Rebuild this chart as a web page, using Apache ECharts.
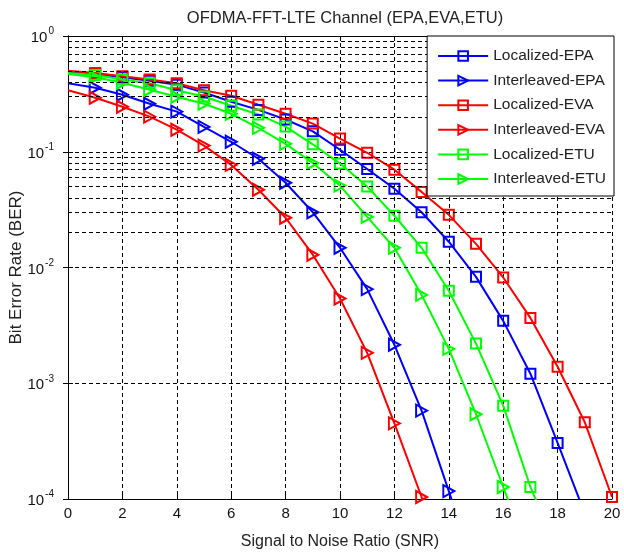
<!DOCTYPE html>
<html><head><meta charset="utf-8">
<script src="https://cdn.jsdelivr.net/npm/echarts@6/dist/echarts.min.js"></script>
<style>html,body{margin:0;padding:0;background:#fff}#c{width:624px;height:553px}</style>
</head><body><div id="c"></div>
<script>
const snr = [0,1,2,3,4,5,6,7,8,9,10,11,12,13,14,15,16,17,18,19,20];
const xTicks = [0,2,4,6,8,10,12,14,16,18,20];
const yTickExponents = [-4,-3,-2,-1,0];
const locEPA = [0.49,0.47,0.44,0.41,0.38,0.325,0.27,0.23,0.19,0.15,0.104,0.071,0.048,0.030,0.0167,0.0083,0.00346,0.00121,0.000305,0.000075];
const intEPA = [0.39,0.357,0.311,0.26,0.222,0.164,0.122,0.087,0.054,0.030,0.0148,0.0065,0.00215,0.00058,0.000117,0.000023];
const locEVA = [0.50,0.48,0.448,0.42,0.39,0.34,0.305,0.255,0.213,0.175,0.13,0.098,0.070,0.045,0.0285,0.016,0.0082,0.00367,0.00139,0.00046,0.000104];
const intEVA = [0.34,0.293,0.245,0.201,0.155,0.113,0.077,0.047,0.0269,0.0129,0.0054,0.00183,0.00045,0.000104,0.000015];
const locETU = [0.48,0.46,0.42,0.39,0.34,0.30,0.25,0.21,0.165,0.116,0.079,0.050,0.028,0.0148,0.0063,0.0022,0.00064,0.000127,0.000035];
const intETU = [0.47,0.44,0.395,0.343,0.299,0.26,0.213,0.161,0.117,0.080,0.051,0.0274,0.0148,0.0058,0.00198,0.00054,0.000127,0.00003];
const names = ['Localized-EPA','Interleaved-EPA','Localized-EVA','Interleaved-EVA','Localized-ETU','Interleaved-ETU'];
const seriesValues = [locEPA,intEPA,locEVA,intEVA,locETU,intETU];
const colors = ['#0000ff','#0000ff','#ff0000','#ff0000','#00ff00','#00ff00'];

const FONT = 'Liberation Sans';
const dashed = [4,3];

// minor grid values for log axis (2..9 x 10^k)
const minorVals = [];
for (let k = yTickExponents[0]; k < yTickExponents[yTickExponents.length-1]; k++) {
  for (let m = 2; m <= 9; m++) minorVals.push(m * Math.pow(10, k));
}

const series = seriesValues.map((vals, i) => {
  const isTri = i % 2 === 1;
  return {
    name: names[i],
    type: 'line',
    z: 3,
    clip: true,
    data: vals.map((v, j) => j === 0 ? {value: [snr[j], v], symbol: 'none'} : [snr[j], v]),
    symbol: isTri ? 'triangle' : 'rect',
    symbolSize: isTri ? [12, 11] : [10, 10],
    symbolRotate: isTri ? -90 : 0,
    showSymbol: true,
    lineStyle: {color: colors[i], width: 2},
    itemStyle: {color: 'rgba(255,255,255,0)', borderColor: colors[i], borderWidth: 2},
    emphasis: {disabled: true},
    animation: false
  };
});
series.push({
  type: 'line', z: 1, data: [], silent: true,
  markLine: {
    silent: true, symbol: 'none', animation: false,
    label: {show: false},
    lineStyle: {color: '#000', width: 1, type: dashed},
    data: minorVals.map(v => ({yAxis: v}))
  }
});

const supLabel = v => {
  const e = Math.round(Math.log10(v));
  return '{b|10}{s|' + e + '}';
};

const chart = echarts.init(document.getElementById('c'), null, {renderer: 'canvas'});
chart.setOption({
  animation: false,
  backgroundColor: '#fff',
  title: {
    text: 'OFDMA-FFT-LTE Channel (EPA,EVA,ETU)',
    left: 340, textAlign: 'center', top: 5,
    textStyle: {fontFamily: FONT, fontSize: 16.5, fontWeight: 'normal', color: '#222'}
  },
  grid: {left: 68, right: 12, top: 36, bottom: 54, containLabel: false, outerBoundsMode: 'none'},
  legend: {
    data: names,
    orient: 'vertical',
    right: 10, top: 36, z: 50,
    itemWidth: 50, itemHeight: 12, itemGap: 8.6,
    padding: [12, 8, 9, 10],
    backgroundColor: '#fff', borderColor: '#000', borderWidth: 1,
    textStyle: {fontFamily: FONT, fontSize: 15.5, color: '#222'},
    selectedMode: false
  },
  xAxis: [{
    type: 'value', min: 0, max: 20, interval: 2,
    name: 'Signal to Noise Ratio (SNR)', nameLocation: 'middle', nameGap: 35,
    nameMoveOverlap: false,
    nameTextStyle: {fontFamily: FONT, fontSize: 16, color: '#222'},
    axisLine: {show: true, lineStyle: {color: '#000', width: 1}},
    axisTick: {show: true, inside: true, length: 5, lineStyle: {color: '#000'}},
    axisLabel: {fontFamily: FONT, fontSize: 15, color: '#111', margin: 7,
      formatter: v => xTicks.includes(v) ? String(v) : ''},
    splitLine: {show: true, lineStyle: {color: '#000', width: 1, type: dashed}}
  }, {
    type: 'value', min: 0, max: 20, interval: 2, position: 'top',
    axisLine: {show: true, onZero: false, lineStyle: {color: '#000', width: 1}},
    axisTick: {show: true, inside: true, length: 5, lineStyle: {color: '#000'}},
    axisLabel: {show: false}, splitLine: {show: false}
  }],
  yAxis: [{
    type: 'log', logBase: 10, min: 1e-4, max: 1,
    name: 'Bit Error Rate (BER)', nameLocation: 'middle', nameGap: 43,
    nameMoveOverlap: false,
    nameTextStyle: {fontFamily: FONT, fontSize: 17, color: '#222'},
    axisLine: {show: true, lineStyle: {color: '#000', width: 1}},
    axisTick: {show: true, inside: true, length: 5, lineStyle: {color: '#000'}},
    axisLabel: {
      margin: 14, formatter: supLabel,
      rich: {
        b: {fontFamily: FONT, fontSize: 15, color: '#111', verticalAlign: 'bottom'},
        s: {fontFamily: FONT, fontSize: 10, color: '#111', verticalAlign: 'top', padding: [0, 0, 9, 1]}
      }
    },
    splitLine: {show: true, lineStyle: {color: '#000', width: 1, type: dashed}}
  }, {
    type: 'log', logBase: 10, min: 1e-4, max: 1, position: 'right',
    axisLine: {show: true, lineStyle: {color: '#000', width: 1}},
    axisTick: {show: true, inside: true, length: 5, lineStyle: {color: '#000'}},
    axisLabel: {show: false}, splitLine: {show: false}
  }],
  series: series
});
</script></body></html>
